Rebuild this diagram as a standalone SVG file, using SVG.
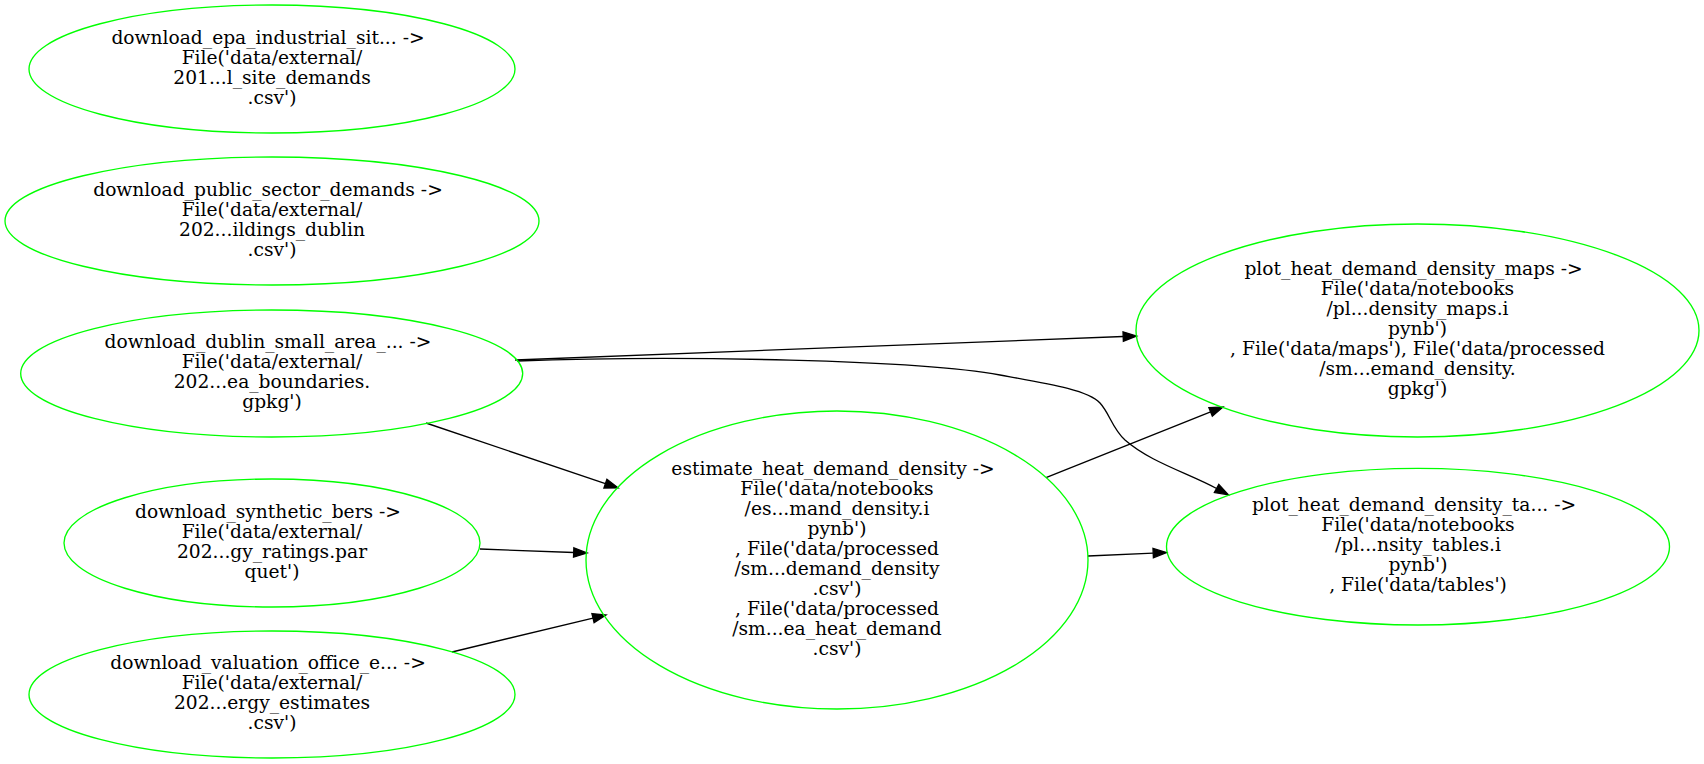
<svg xmlns="http://www.w3.org/2000/svg" width="1704" height="764" viewBox="0 0 1704 764">
<style>
.node ellipse { fill: none; stroke: #00ff00; stroke-width: 1.33; }
.node text { font-family: "DejaVu Serif", serif; font-size: 18.67px; text-anchor: middle; fill: #000000; }
.edge { fill: none; stroke: #000000; stroke-width: 1.33; marker-end: url(#arrow); }
</style>
<defs>
<marker id="arrow" markerUnits="userSpaceOnUse" markerWidth="14" markerHeight="10" viewBox="0 0 14 10" refX="0" refY="5" orient="auto" overflow="visible">
<path d="M0,0.33 L13.33,5 L0,9.67 z" fill="#000000" stroke="#000000" stroke-width="1.33"/>
</marker>
</defs>
<rect x="0" y="0" width="1704" height="764" fill="#ffffff"/>
<g id="edges">
<path class="edge" d="M515,360 L1123.2,336.5"/>
<path class="edge" d="M517,361 C680,355 920,360 1000,375 C1050,384 1088,390 1100,403 C1110,414 1112,428 1125,440 C1150,462 1188,473 1216.6,488.5"/>
<path class="edge" d="M426,423 L605.4,483.7"/>
<path class="edge" d="M480,549 L573.7,552.5"/>
<path class="edge" d="M452,652 L593,618.1"/>
<path class="edge" d="M1046,477.6 L1210.6,411.9"/>
<path class="edge" d="M1088,556 L1153.2,553.1"/>
</g>
<g id="node-epa" class="node">
<ellipse cx="272" cy="69" rx="243" ry="64"/>
<text><tspan x="268" y="43.5">download_epa_industrial_sit... -&gt;</tspan><tspan x="272" y="63.5">File('data/external/</tspan><tspan x="272" y="83.5">201...l_site_demands</tspan><tspan x="272" y="103.5">.csv')</tspan></text>
</g>
<g id="node-public" class="node">
<ellipse cx="272" cy="221" rx="267" ry="64"/>
<text><tspan x="268" y="195.5">download_public_sector_demands -&gt;</tspan><tspan x="272" y="215.5">File('data/external/</tspan><tspan x="272" y="235.5">202...ildings_dublin</tspan><tspan x="272" y="255.5">.csv')</tspan></text>
</g>
<g id="node-dublin" class="node">
<ellipse cx="271.7" cy="373.5" rx="251" ry="63.5"/>
<text><tspan x="268" y="348">download_dublin_small_area_... -&gt;</tspan><tspan x="272" y="368">File('data/external/</tspan><tspan x="272" y="388">202...ea_boundaries.</tspan><tspan x="272" y="408">gpkg')</tspan></text>
</g>
<g id="node-synthetic" class="node">
<ellipse cx="272" cy="543" rx="208" ry="64"/>
<text><tspan x="268" y="517.5">download_synthetic_bers -&gt;</tspan><tspan x="272" y="537.5">File('data/external/</tspan><tspan x="272" y="557.5">202...gy_ratings.par</tspan><tspan x="272" y="577.5">quet')</tspan></text>
</g>
<g id="node-valuation" class="node">
<ellipse cx="272" cy="694.5" rx="243" ry="63.5"/>
<text><tspan x="268" y="669">download_valuation_office_e... -&gt;</tspan><tspan x="272" y="689">File('data/external/</tspan><tspan x="272" y="709">202...ergy_estimates</tspan><tspan x="272" y="729">.csv')</tspan></text>
</g>
<g id="node-estimate" class="node">
<ellipse cx="837" cy="560" rx="251" ry="149"/>
<text><tspan x="833" y="474.5">estimate_heat_demand_density -&gt;</tspan><tspan x="837" y="494.5">File('data/notebooks</tspan><tspan x="837" y="514.5">/es...mand_density.i</tspan><tspan x="837" y="534.5">pynb')</tspan><tspan x="837" y="554.5">, File('data/processed</tspan><tspan x="837" y="574.5">/sm...demand_density</tspan><tspan x="837" y="594.5">.csv')</tspan><tspan x="837" y="614.5">, File('data/processed</tspan><tspan x="837" y="634.5">/sm...ea_heat_demand</tspan><tspan x="837" y="654.5">.csv')</tspan></text>
</g>
<g id="node-maps" class="node">
<ellipse cx="1417.5" cy="330.5" rx="281.5" ry="106.5"/>
<text><tspan x="1413.5" y="275">plot_heat_demand_density_maps -&gt;</tspan><tspan x="1417.5" y="295">File('data/notebooks</tspan><tspan x="1417.5" y="315">/pl...density_maps.i</tspan><tspan x="1417.5" y="335">pynb')</tspan><tspan x="1417.5" y="355">, File('data/maps'), File('data/processed</tspan><tspan x="1417.5" y="375">/sm...emand_density.</tspan><tspan x="1417.5" y="395">gpkg')</tspan></text>
</g>
<g id="node-tables" class="node">
<ellipse cx="1418" cy="546.7" rx="251.5" ry="78.3"/>
<text><tspan x="1414" y="511.2">plot_heat_demand_density_ta... -&gt;</tspan><tspan x="1418" y="531.2">File('data/notebooks</tspan><tspan x="1418" y="551.2">/pl...nsity_tables.i</tspan><tspan x="1418" y="571.2">pynb')</tspan><tspan x="1418" y="591.2">, File('data/tables')</tspan></text>
</g>
</svg>
